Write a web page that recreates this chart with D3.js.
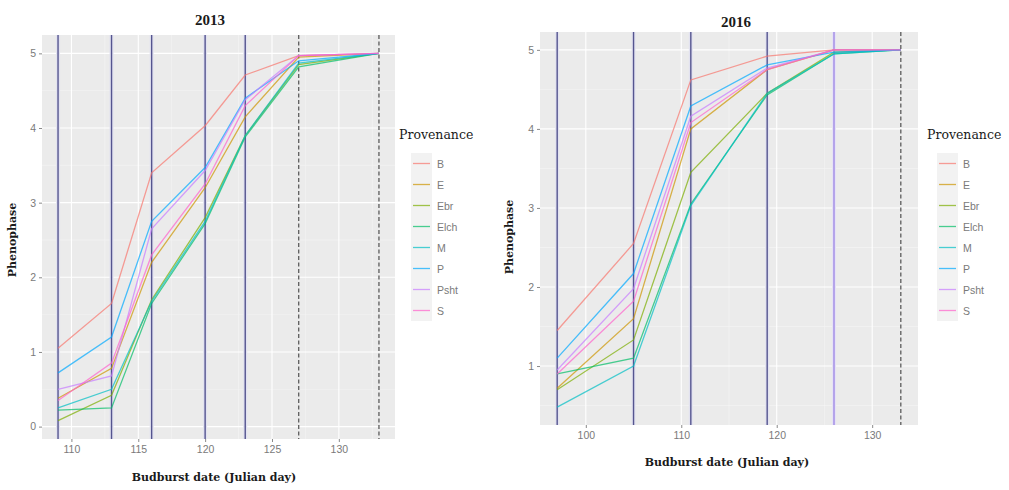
<!DOCTYPE html>
<html>
<head>
<meta charset="utf-8">
<script src="https://cdn.jsdelivr.net/npm/d3@7"></script>
<style>
  html, body { margin: 0; padding: 0; background: #ffffff; }
  svg { display: block; }
  .tick-label { font-family: "Liberation Sans", Arial, sans-serif; font-size: 10.5px; fill: #7a7a7a; }
  .panel-title { font-family: "Liberation Serif", "Times New Roman", serif; font-weight: bold; font-size: 15px; fill: #1a1a1a; }
  .axis-title { font-family: "DejaVu Serif", serif; font-size: 11px; fill: #1a1a1a; font-weight: bold; }
  .legend-title { font-family: "DejaVu Serif", serif; font-size: 12.5px; fill: #1a1a1a; }
  .legend-label { font-family: "Liberation Sans", Arial, sans-serif; font-size: 10.5px; fill: #7a7a7a; }
</style>
</head>
<body>
<svg id="chart" width="1009" height="490"></svg>
<script>
// Provenances and their mean phenophase on each observation day
const provenances = ["B", "E", "Ebr", "Elch", "M", "P", "Psht", "S"];

// 2013 season
const days2013 = [109, 113, 116, 120, 123, 127, 133];
const b2013    = [1.05, 1.65, 3.40, 4.03, 4.71, 4.97, 5.00];
const e2013    = [0.38, 0.78, 2.20, 3.20, 4.15, 4.95, 5.00];
const ebr2013  = [0.08, 0.42, 1.70, 2.80, 3.90, 4.85, 5.00];
const elch2013 = [0.22, 0.25, 1.65, 2.72, 3.88, 4.82, 5.00];
const m2013    = [0.25, 0.50, 1.68, 2.75, 3.90, 4.87, 5.00];
const p2013    = [0.72, 1.20, 2.75, 3.47, 4.40, 4.90, 5.00];
const psht2013 = [0.50, 0.68, 2.65, 3.43, 4.38, 4.97, 5.00];
const s2013    = [0.35, 0.85, 2.30, 3.25, 4.30, 4.97, 5.00];
const solidDays2013  = [109, 113, 116, 120, 123];
const dashedDays2013 = [127, 133];
const xTicks2013 = [110, 115, 120, 125, 130];
const yTicks2013 = [0, 1, 2, 3, 4, 5];

// 2016 season
const days2016 = [97, 105, 111, 119, 126, 133];
const b2016    = [1.45, 2.55, 4.62, 4.92, 5.00, 5.00];
const e2016    = [0.72, 1.60, 4.00, 4.75, 5.00, 5.00];
const ebr2016  = [0.70, 1.33, 3.45, 4.45, 4.97, 5.00];
const elch2016 = [0.90, 1.10, 3.05, 4.43, 4.95, 5.00];
const m2016    = [0.48, 1.00, 3.03, 4.45, 4.95, 5.00];
const p2016    = [1.10, 2.17, 4.29, 4.81, 4.97, 5.00];
const psht2016 = [0.95, 1.98, 4.16, 4.77, 5.00, 5.00];
const s2016    = [0.90, 1.82, 4.08, 4.75, 5.00, 5.00];
const solidDays2016  = [97, 105, 111, 119];
const lightDays2016  = [126];
const dashedDays2016 = [133];
const xTicks2016 = [100, 110, 120, 130];
const yTicks2016 = [1, 2, 3, 4, 5];

const series2013 = [b2013, e2013, ebr2013, elch2013, m2013, p2013, psht2013, s2013];
const series2016 = [b2016, e2016, ebr2016, elch2016, m2016, p2016, psht2016, s2016];

// ggplot-style hue palette
const colour = d3.scaleOrdinal()
  .domain(provenances)
  .range(["#F8766D", "#CD9600", "#7CAE00", "#00BE67", "#00BFC4", "#00A9FF", "#C77CFF", "#FF61CC"]);

const svg = d3.select("#chart");

function expand(ext, f = 0.05) {
  const pad = (ext[1] - ext[0]) * f;
  return [ext[0] - pad, ext[1] + pad];
}

function drawPanel(cfg) {
  const x = d3.scaleLinear().domain(expand(d3.extent(cfg.days))).range([cfg.left, cfg.right]);
  const allVals = cfg.series.flat();
  const y = d3.scaleLinear().domain(expand(d3.extent(allVals))).range([cfg.bottom, cfg.top]);

  const g = svg.append("g");

  // panel background
  g.append("rect")
    .attr("x", cfg.left).attr("y", cfg.top)
    .attr("width", cfg.right - cfg.left).attr("height", cfg.bottom - cfg.top)
    .attr("fill", "#EBEBEB");

  // minor grid
  const xDom = x.domain(), yDom = y.domain();
  const xStep = cfg.xTicks[1] - cfg.xTicks[0];
  const xMinor = d3.range(cfg.xTicks[0] - xStep / 2, xDom[1], xStep).filter(v => v > xDom[0]);
  const yMinor = d3.range(Math.floor(yDom[0]) + 0.5, yDom[1], 1).filter(v => v > yDom[0]);
  g.selectAll(".xminor").data(xMinor).join("line")
    .attr("x1", d => x(d)).attr("x2", d => x(d))
    .attr("y1", cfg.top).attr("y2", cfg.bottom)
    .attr("stroke", "#F5F5F5").attr("stroke-width", 0.6);
  g.selectAll(".yminor").data(yMinor).join("line")
    .attr("x1", cfg.left).attr("x2", cfg.right)
    .attr("y1", d => y(d)).attr("y2", d => y(d))
    .attr("stroke", "#F5F5F5").attr("stroke-width", 0.6);

  // major grid
  g.selectAll(".xmajor").data(cfg.xTicks).join("line")
    .attr("x1", d => x(d)).attr("x2", d => x(d))
    .attr("y1", cfg.top).attr("y2", cfg.bottom)
    .attr("stroke", "#FFFFFF").attr("stroke-width", 1.1);
  g.selectAll(".ymajor").data(cfg.yTicks).join("line")
    .attr("x1", cfg.left).attr("x2", cfg.right)
    .attr("y1", d => y(d)).attr("y2", d => y(d))
    .attr("stroke", "#FFFFFF").attr("stroke-width", 1.1);

  // observation days
  const vline = (days, stroke, width, dash) => {
    g.append("g").selectAll("line").data(days).join("line")
      .attr("x1", d => x(d)).attr("x2", d => x(d))
      .attr("y1", cfg.top).attr("y2", cfg.bottom)
      .attr("stroke", stroke).attr("stroke-width", width)
      .attr("stroke-dasharray", dash || null);
  };
  // faint halo behind the solid lines
  vline(cfg.solidDays, "#e2e2f0", 4);
  vline(cfg.solidDays, "#55558f", 1.4);
  if (cfg.lightDays) {
    vline(cfg.lightDays, "#e6e2f5", 4);
    vline(cfg.lightDays, "#9F8AE6", 1.4);
  }
  vline(cfg.dashedDays, "#505050", 1.2, "4,2.5");

  // provenance lines
  const line = d3.line().x((d, i) => x(cfg.days[i])).y(d => y(d));
  g.append("g").selectAll("path").data(cfg.series).join("path")
    .attr("d", d => line(d))
    .attr("fill", "none")
    .attr("stroke", (d, i) => colour(provenances[i]))
    .attr("stroke-width", 1.3)
    .attr("stroke-opacity", 0.7);

  // axes
  const xAxis = d3.axisBottom(x).tickValues(cfg.xTicks).tickFormat(d3.format("d")).tickSize(3).tickPadding(4);
  const yAxis = d3.axisLeft(y).tickValues(cfg.yTicks).tickFormat(d3.format("d")).tickSize(3).tickPadding(3);
  const gx = g.append("g").attr("transform", `translate(0,${cfg.bottom})`).call(xAxis);
  const gy = g.append("g").attr("transform", `translate(${cfg.left},0)`).call(yAxis);
  [gx, gy].forEach(a => {
    a.select(".domain").remove();
    a.selectAll(".tick line").attr("stroke", "#8a8a8a");
    a.selectAll(".tick text").attr("class", "tick-label").attr("fill", null).attr("font-size", null).attr("font-family", null);
  });

  // titles
  g.append("text").attr("class", "panel-title")
    .attr("x", cfg.titleX).attr("y", cfg.titleY).attr("text-anchor", "middle")
    .text(cfg.title);
  g.append("text").attr("class", "axis-title")
    .attr("x", cfg.xTitleX).attr("y", cfg.xTitleY).attr("text-anchor", "middle")
    .text("Budburst date (Julian day)");
  g.append("text").attr("class", "axis-title")
    .attr("transform", `translate(${cfg.yTitleX},${cfg.yTitleY}) rotate(-90)`)
    .attr("text-anchor", "middle")
    .text("Phenophase");

  // legend
  const lg = g.append("g").attr("transform", `translate(${cfg.legendX},${cfg.legendY})`);
  lg.append("text").attr("class", "legend-title").attr("x", 0).attr("y", 0).text("Provenance");
  const keyW = 21, keyH = 21, keyTop = 14;
  const items = lg.selectAll(".item").data(provenances).join("g")
    .attr("transform", (d, i) => `translate(${cfg.keyOffset},${keyTop + i * keyH})`);
  items.append("rect").attr("x", 0).attr("y", 0).attr("width", keyW).attr("height", keyH)
    .attr("fill", "#F2F2F2");
  items.append("line").attr("x1", 2).attr("x2", keyW - 2)
    .attr("y1", keyH / 2).attr("y2", keyH / 2)
    .attr("stroke", d => colour(d)).attr("stroke-width", 1.3).attr("stroke-opacity", 0.7);
  items.append("text").attr("class", "legend-label")
    .attr("x", keyW + 5).attr("y", keyH / 2 + 4).text(d => d);
}

drawPanel({
  title: "2013", days: days2013, series: series2013,
  solidDays: solidDays2013, dashedDays: dashedDays2013,
  xTicks: xTicks2013, yTicks: yTicks2013,
  left: 42, right: 395, top: 35, bottom: 439,
  titleX: 210, titleY: 25,
  xTitleX: 214, xTitleY: 481,
  yTitleX: 16, yTitleY: 240,
  legendX: 399, legendY: 139, keyOffset: 12
});

drawPanel({
  title: "2016", days: days2016, series: series2016,
  solidDays: solidDays2016, lightDays: lightDays2016, dashedDays: dashedDays2016,
  xTicks: xTicks2016, yTicks: yTicks2016,
  left: 540, right: 918, top: 32, bottom: 425,
  titleX: 736, titleY: 27,
  xTitleX: 727, xTitleY: 466,
  yTitleX: 513, yTitleY: 237,
  legendX: 927, legendY: 139, keyOffset: 10
});
</script>
</body>
</html>
